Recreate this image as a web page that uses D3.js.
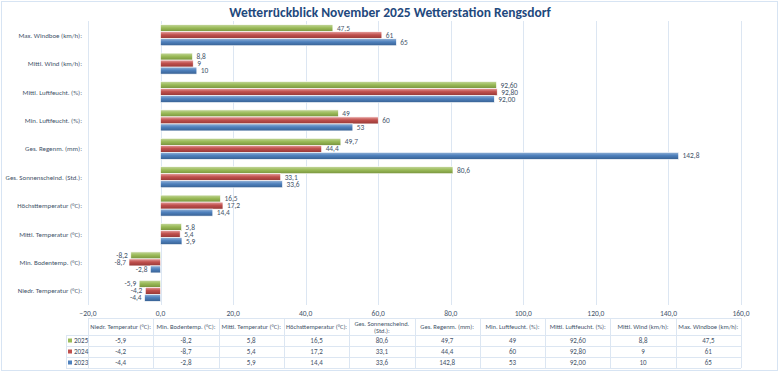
<!DOCTYPE html>
<html><head><meta charset="utf-8">
<script src="https://cdn.jsdelivr.net/npm/d3@7/dist/d3.min.js"></script>
<style>
body{margin:0;background:#fff;}
text{font-family:Carlito,Lato,"Liberation Sans",sans-serif;}
</style></head>
<body><svg id="c" width="780" height="373"></svg>
<script>
const categories = ["Niedr. Temperatur (°C):","Min. Bodentemp. (°C):","Mittl. Temperatur (°C):","Höchsttemperatur (°C):","Ges. Sonnenscheind. (Std.):","Ges. Regenm. (mm):","Min. Luftfeucht. (%):","Mittl. Luftfeucht. (%):","Mittl. Wind (km/h):","Max. Windboe (km/h):"];
const years = ["2025","2024","2023"];
const values2025 = [-5.9,-8.2,5.8,16.5,80.6,49.7,49,92.60,8.8,47.5];
const values2024 = [-4.2,-8.7,5.4,17.2,33.1,44.4,60,92.80,9,61];
const values2023 = [-4.4,-2.8,5.9,14.4,33.6,142.8,53,92.00,10,65];
const labels2025 = ["-5,9","-8,2","5,8","16,5","80,6","49,7","49","92,60","8,8","47,5"];
const labels2024 = ["-4,2","-8,7","5,4","17,2","33,1","44,4","60","92,80","9","61"];
const labels2023 = ["-4,4","-2,8","5,9","14,4","33,6","142,8","53","92,00","10","65"];
const xTicks = [-20,0,20,40,60,80,100,120,140,160];
const title = "Wetterrückblick November 2025 Wetterstation Rengsdorf";

const series = [
  {year:"2025", vals:values2025, labs:labels2025, color:"#9BBB59", light:"#C3D69B", dark:"#77933C"},
  {year:"2024", vals:values2024, labs:labels2024, color:"#C0504D", light:"#E6A09E", dark:"#953735"},
  {year:"2023", vals:values2023, labs:labels2023, color:"#4F81BD", light:"#95B3D7", dark:"#376092"}
];

const svg = d3.select("#c");
const textCol = "#44546A";
const gridCol = "#DCE6F2";

svg.append("rect").attr("x",1.5).attr("y",1.5).attr("width",776).attr("height",369)
  .attr("fill","#fff").attr("stroke","#D7E4F3").attr("stroke-width",1);

const defs = svg.append("defs");
series.forEach((s,i)=>{
  const g = defs.append("linearGradient").attr("id","g"+i).attr("x1",0).attr("y1",0).attr("x2",0).attr("y2",1);
  g.append("stop").attr("offset","0%").attr("stop-color",s.light);
  g.append("stop").attr("offset","45%").attr("stop-color",s.color);
  g.append("stop").attr("offset","100%").attr("stop-color",s.dark);
});

svg.append("text").attr("x",390).attr("y",17).attr("text-anchor","middle")
  .attr("font-size",13.5).attr("font-weight","bold").attr("fill","#1F497D").text(title);

const x = d3.scaleLinear().domain([-20,160]).range([88,741]);
const y = d3.scaleBand().domain(categories.slice().reverse()).range([21,305]).paddingInner(0.26).paddingOuter(0.13);
const ySub = d3.scaleBand().domain(years).range([0,y.bandwidth()]);
const tcol = d3.scaleBand().domain(categories).range([88,741]);

svg.append("g").selectAll("line").data(xTicks).join("line")
  .attr("x1",d=>Math.round(x(d))+0.5).attr("x2",d=>Math.round(x(d))+0.5).attr("y1",21).attr("y2",305)
  .attr("stroke",gridCol).attr("stroke-width",1);

svg.append("g").selectAll("text").data(xTicks).join("text")
  .attr("x",d=>x(d)).attr("y",316).attr("text-anchor","middle")
  .attr("font-size",7.5).attr("fill",textCol).text(d=>d3.format(".1f")(d).replace(".",","));

svg.append("g").selectAll("text").data(categories).join("text")
  .attr("x",82).attr("y",d=>y(d)+y.bandwidth()/2+2.5).attr("text-anchor","end")
  .attr("font-size",6.9).attr("fill",textCol).text(d=>d);

series.forEach((s,i)=>{
  const g = svg.append("g");
  g.selectAll("rect").data(categories).join("rect")
    .attr("x",(c,j)=>x(Math.min(0,s.vals[j])))
    .attr("y",c=>y(c)+ySub(s.year))
    .attr("width",(c,j)=>Math.abs(x(s.vals[j])-x(0)))
    .attr("height",ySub.bandwidth())
    .attr("fill","url(#g"+i+")")
    .attr("stroke","#fff").attr("stroke-width",0.6);
  g.selectAll("text").data(categories).join("text")
    .attr("x",(c,j)=>s.vals[j]<0 ? x(s.vals[j])-3 : x(s.vals[j])+4)
    .attr("y",c=>y(c)+ySub(s.year)+ySub.bandwidth()/2+2.6)
    .attr("text-anchor",(c,j)=>s.vals[j]<0?"end":"start")
    .attr("font-size",7.4).attr("fill",textCol).text((c,j)=>s.labs[j]);
});

// data table
const tTop = 318, hdrBot = 335, rowH = 11;
const tbl = svg.append("g").attr("stroke",gridCol).attr("stroke-width",1);
tbl.append("line").attr("x1",88).attr("x2",741).attr("y1",tTop+0.5).attr("y2",tTop+0.5);
[0,1,2,3].forEach(k=>{
  tbl.append("line").attr("x1",66).attr("x2",741).attr("y1",hdrBot+k*rowH+0.5).attr("y2",hdrBot+k*rowH+0.5);
});
tbl.append("line").attr("x1",66.5).attr("x2",66.5).attr("y1",hdrBot).attr("y2",hdrBot+3*rowH);
categories.forEach(c=>{
  tbl.append("line").attr("x1",Math.round(tcol(c))+0.5).attr("x2",Math.round(tcol(c))+0.5).attr("y1",tTop).attr("y2",hdrBot+3*rowH);
});
tbl.append("line").attr("x1",741.5).attr("x2",741.5).attr("y1",tTop).attr("y2",hdrBot+3*rowH);

const hdr = svg.append("g");
categories.forEach(c=>{
  const cx = tcol(c)+tcol.bandwidth()/2;
  if (c.length > 23) {
    const parts = c.split(" (");
    hdr.append("text").attr("x",cx).attr("y",tTop+7.5).attr("text-anchor","middle").attr("font-size",6.5).attr("fill",textCol).text(parts[0]);
    hdr.append("text").attr("x",cx).attr("y",tTop+15).attr("text-anchor","middle").attr("font-size",6.5).attr("fill",textCol).text("("+parts[1]);
  } else {
    hdr.append("text").attr("x",cx).attr("y",tTop+11).attr("text-anchor","middle").attr("font-size",6.5).attr("fill",textCol).text(c);
  }
});
series.forEach((s,i)=>{
  const ry = hdrBot+i*rowH;
  svg.append("rect").attr("x",68).attr("y",ry+3.5).attr("width",4).attr("height",4).attr("fill",s.color);
  svg.append("text").attr("x",74).attr("y",ry+8.3).attr("font-size",7).attr("fill",textCol).text(s.year);
  categories.forEach((c,j)=>{
    svg.append("text").attr("x",tcol(c)+tcol.bandwidth()/2).attr("y",ry+8.3).attr("text-anchor","middle")
      .attr("font-size",7).attr("fill",textCol).text(s.labs[j]);
  });
});
</script></body></html>
